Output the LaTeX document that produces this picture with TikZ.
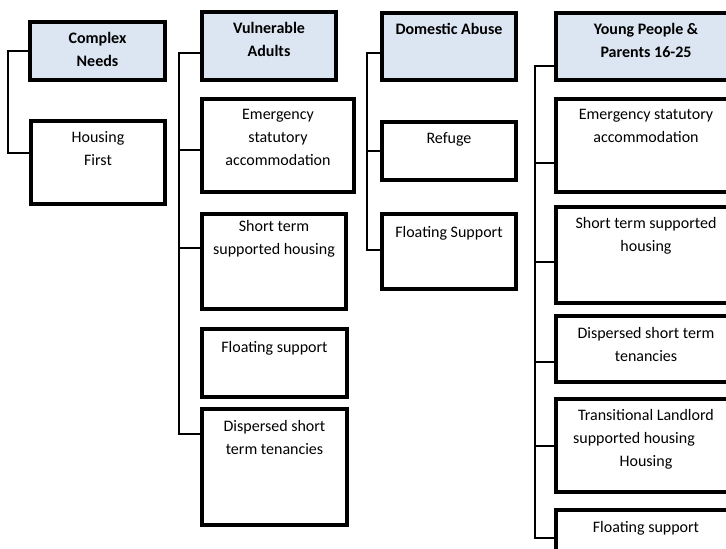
\documentclass[tikz,border=0pt]{standalone}
\usepackage{fontspec}
\setmainfont{Carlito}
\usepackage{xcolor}
\usetikzlibrary{positioning}
\definecolor{headblue}{RGB}{220,230,242}

\begin{document}
\begin{tikzpicture}[
            x=1pt, y=-1pt,
            box/.style={
                    draw,
                    line width=3.2pt,
                    fill=white,
                    anchor=north west,
                    inner sep=0pt,
                    outer sep=0pt
                },
            head/.style={
                    box,
                    fill=headblue
                },
            txt/.style={
                    align=center,
                    anchor=north,
                    inner sep=0pt,
                    font=\fontsize{16}{23}\selectfont
                },
            htxt/.style={
                    txt,
                    font=\fontsize{16}{23}\selectfont\bfseries
                },
            link/.style={
                    line width=2.8pt
                }
        ]

        \clip (0,0) rectangle (726,549);

        % complex needs
        \node[head, minimum width=135pt, minimum height=58pt] (cn) at (30,22) {};
        \node[box, minimum width=134pt, minimum height=83pt] (hf) at (31,121) {};

        \node[htxt, below=10pt of cn.north] (cnT) {Complex\\Needs};
        \node[txt, below=10pt of hf.north] (hfT) {Housing\\First};

        \draw[link] (cn.west) -| ([xshift=-23pt,yshift=9.5pt]hf.west) -- ([yshift=9.5pt]hf.west);

        % vulnerable adults
        \node[head, minimum width=134pt, minimum height=68pt] (vah) at (202,12) {};
        \node[box, minimum width=152pt, minimum height=93pt] (vae) at (202,99) {};
        \node[box, minimum width=144pt, minimum height=95pt] (vas) at (202,214) {};
        \node[box, minimum width=145pt, minimum height=68pt] (vaf) at (202,329) {};
        \node[box, minimum width=145pt, minimum height=116pt] (vad) at (202,409) {};

        \node[htxt, below=10pt of vah.north] (vahT) {Vulnerable\\Adults};
        \node[txt, below=10pt of vae.north] (vaeT) {Emergency\\statutory\\accommodation};
        \node[txt, below=6pt of vas.north] (vasT) {Short term\\supported housing};
        \node[txt, below=12pt of vaf.north] (vafT) {Floating support};
        \node[txt, below=11pt of vad.north] (vadT) {Dispersed short\\term tenancies};

        \draw[link] ([yshift=-7pt]vah.west) -| ([xshift=-23pt,yshift=33pt]vad.west) -- ([yshift=33pt]vad.west);
        \draw[link] ([yshift=-4.5pt]vae.west) -- ++(-23,0);
        \draw[link] ([yshift=13.5pt]vas.west) -- ++(-23,0);

        % domestic abuse
        \node[head, minimum width=134pt, minimum height=67pt] (dah) at (382,13) {};
        \node[box, minimum width=134pt, minimum height=58pt] (dar) at (382,122) {};
        \node[box, minimum width=134pt, minimum height=75pt] (das) at (382,214) {};

        \node[htxt, below=10pt of dah.north] (dahT) {Domestic Abuse};
        \node[txt, below=10pt of dar.north] (darT) {Refuge};
        \node[txt, below=12pt of das.north] (dasT) {Floating Support};

        \draw[link] ([yshift=-6.5pt]dah.west) -| ([xshift=-15pt,yshift=1.5pt]das.west) -- ([yshift=1.5pt]das.west);
        \draw[link] (dar.west) -- ++(-15,0);

        % young people and parents
        \node[head, minimum width=180pt, minimum height=67pt] (yph) at (556,13) {};
        \node[box, minimum width=180pt, minimum height=93pt] (ype) at (556,99) {};
        \node[box, minimum width=180pt, minimum height=96pt] (yps) at (556,207) {};
        \node[box, minimum width=180pt, minimum height=66pt] (ypd) at (556,316) {};
        \node[box, minimum width=180pt, minimum height=93pt] (ypt) at (556,399) {};
        \node[box, minimum width=180pt, minimum height=70pt] (ypf) at (556,510) {};

        \node[htxt, below=10pt of yph.north] (yphT) {Young People \&\\Parents 16-25};
        \node[txt, below=10pt of ype.north] (ypeT) {Emergency statutory\\accommodation};
        \node[txt, below=10pt of yps.north] (ypsT) {Short term supported\\housing};
        \node[txt, below=11pt of ypd.north] (ypdT) {Dispersed short term\\tenancies};
        \node[txt, below=10pt of ypt.north] (yptT) {Transitional Landlord\\supported housing\kern24pt\\Housing};
        \node[txt, below=11pt of ypf.north] (ypfT) {Floating support};

        \draw[link] ([yshift=-19.5pt]yph.west) -| ([xshift=-21pt,yshift=7pt]ypf.west) -- ([yshift=7pt]ypf.west);
        \draw[link] ([yshift=-17.5pt]ype.west) -- ++(-21,0);
        \draw[link] ([yshift=-7pt]yps.west) -- ++(-21,0);
        \draw[link] ([yshift=-13pt]ypd.west) -- ++(-21,0);
        \draw[link] ([yshift=-0.5pt]ypt.west) -- ++(-21,0);

    \end{tikzpicture}
\end{document}
